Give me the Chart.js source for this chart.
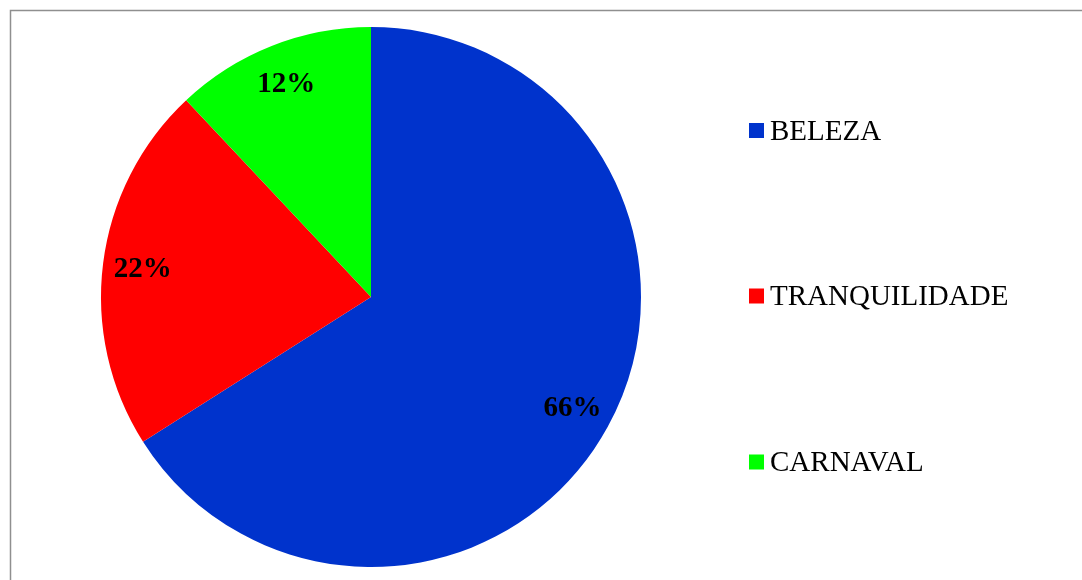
<!DOCTYPE html>
<html>
<head>
<meta charset="utf-8">
<script src="https://cdn.jsdelivr.net/npm/chart.js@4.4.1/dist/chart.umd.min.js"></script>
<style>
  html, body { margin: 0; padding: 0; background: #fff; overflow: hidden; }
  #wrap { position: absolute; left: 0; top: 0; width: 1082px; height: 580px; }
</style>
</head>
<body>
<div id="wrap"><canvas id="myChart" width="1082" height="580"></canvas></div>
<script>
const labels = ['BELEZA', 'TRANQUILIDADE', 'CARNAVAL'];
const values = [66, 22, 12];
const colors = ['#0033CC', '#FF0000', '#00FF00'];

const main = () => {
  // outer grey frame of the chart area
  const framePlugin = {
    id: 'frame',
    beforeDraw(chart) {
      const c = chart.ctx;
      c.save();
      c.strokeStyle = '#8f8f8f';
      c.lineWidth = 1.5;
      c.strokeRect(10.5, 10.5, 1200, 700);
      c.restore();
    },
  };

  // percent labels inside the slices
  const sliceLabels = {
    id: 'sliceLabels',
    afterDatasetsDraw(chart) {
      const c = chart.ctx;
      const meta = chart.getDatasetMeta(0);
      const total = values.reduce((a, b) => a + b, 0);
      c.save();
      c.font = 'bold 29px "Liberation Serif", "Times New Roman", serif';
      c.fillStyle = '#000';
      c.textAlign = 'center';
      c.textBaseline = 'middle';
      meta.data.forEach((arc, i) => {
        const p = arc.getProps(['x', 'y', 'startAngle', 'endAngle', 'outerRadius'], true);
        const mid = (p.startAngle + p.endAngle) / 2;
        const r = p.outerRadius * 0.852;
        const txt = Math.round(values[i] / total * 100) + '%';
        c.fillText(txt, p.x + Math.cos(mid) * r, p.y + Math.sin(mid) * r + 1);
      });
      c.restore();
    },
  };

  // legend on the right, spread down like the original
  const sideLegend = {
    id: 'sideLegend',
    afterDraw(chart) {
      const c = chart.ctx;
      const x0 = 749;
      const ys = [130.5, 296, 462];
      c.save();
      c.font = '29px "Liberation Serif", "Times New Roman", serif';
      c.textBaseline = 'alphabetic';
      c.textAlign = 'left';
      labels.forEach((lab, i) => {
        c.fillStyle = colors[i];
        c.fillRect(x0, ys[i] - 7.5, 15, 15);
        c.fillStyle = '#000';
        c.fillText(lab, x0 + 21, ys[i] + 9);
      });
      c.restore();
    },
  };

  let ctx = document.getElementById('myChart').getContext('2d');
  const config = {
    type: 'pie',
    data: {
      labels,
      datasets: [
        {
          data: values,
          backgroundColor: colors,
          borderWidth: 0,
        },
      ],
    },
    options: {
      responsive: false,
      animation: false,
      layout: {
        padding: { left: 101, top: 27, right: 441, bottom: 13 },
      },
      plugins: {
        legend: { display: false },
        tooltip: { enabled: false },
      },
    },
    plugins: [framePlugin, sliceLabels, sideLegend],
  };
  let myChart = new Chart(ctx, config);
};

main();
</script>
</body>
</html>
